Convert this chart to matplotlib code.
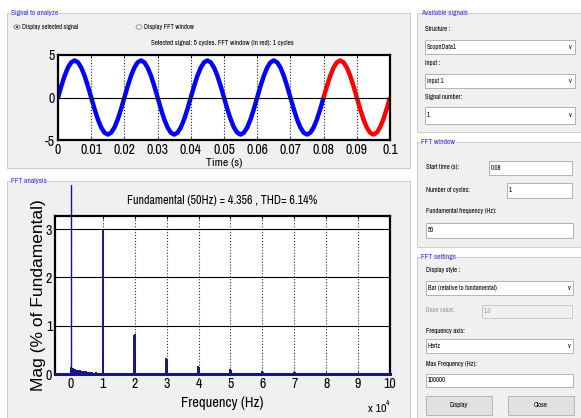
import numpy as np
import matplotlib
matplotlib.use('Agg')
import matplotlib.pyplot as plt
from matplotlib.patches import Rectangle, Circle
from matplotlib.transforms import Bbox

plt.rcParams['axes.unicode_minus'] = False

# ---- data ----
# one cycle of the 50 Hz signal, sampled every 1 ms (amplitude ~4.356)
cycle_vals = [0, 1.35, 2.56, 3.52, 4.14, 4.356, 4.14, 3.52, 2.56, 1.35,
              0, -1.35, -2.56, -3.52, -4.14, -4.356, -4.14, -3.52, -2.56, -1.35]
n_cycles = 5
dt = 0.001
fft_start = 0.08

time_ticks = [0, 0.01, 0.02, 0.03, 0.04, 0.05, 0.06, 0.07, 0.08, 0.09, 0.1]
sig_yticks = [-5, 0, 5]

# spectrum (% of fundamental), frequencies in Hz
fund_freq = 50
fund_mag = 100
harm_freqs = [150, 250, 350, 450, 650, 850, 1050, 1250, 1550, 1850, 2150, 2550,
              2950, 3350, 3750, 4250, 4750, 5250, 5750, 6250, 6750, 7250, 7750,
              8250, 8750, 9250,
              9900, 10000, 10100,
              19800, 19900, 20000, 20100,
              29800, 29900, 30000, 30100,
              39800, 39900, 40000, 40100,
              49800, 49900, 50000, 50100, 50300,
              59800, 59900, 60000, 60200,
              69700, 69900, 70100, 70300,
              79700, 80100, 89900]
harm_mags = [0.14, 0.12, 0.13, 0.11, 0.12, 0.10, 0.09, 0.10, 0.09, 0.08, 0.09, 0.07,
             0.08, 0.06, 0.07, 0.06, 0.07, 0.05, 0.05, 0.04, 0.05, 0.03, 0.04,
             0.03, 0.03, 0.02,
             0.06, 2.98, 0.42,
             0.12, 0.80, 0.82, 0.45,
             0.10, 0.33, 0.32, 0.22,
             0.06, 0.17, 0.15, 0.11,
             0.04, 0.10, 0.11, 0.09, 0.05,
             0.03, 0.07, 0.06, 0.05,
             0.02, 0.05, 0.04, 0.03,
             0.03, 0.03, 0.01]
freq_ticks = [0, 1, 2, 3, 4, 5, 6, 7, 8, 9, 10]
mag_ticks = [0, 1, 2, 3]

title_fft = 'Fundamental (50Hz) = 4.356 , THD= 6.14%'
sel_text = 'Selected signal: 5 cycles. FFT window (in red): 1 cycles'

W, H = 581, 418
NARROW = ['Liberation Sans Narrow', 'Archivo Narrow', 'DejaVu Sans']
PANEL = '#f0f0f0'
NAVY = '#16168c'
TITLE_BLUE = '#3a3ac8'

fig = plt.figure(figsize=(W / 100, H / 100), dpi=100)
fig.patch.set_facecolor('white')


def box(x, y, w, h, fc='white', ec='#a8a8a8', lw=0.6, z=1):
    fig.patches.append(Rectangle((x / W, 1 - (y + h) / H), w / W, h / H,
                                 transform=fig.transFigure, fc=fc, ec=ec,
                                 lw=lw, zorder=z))


def txt(x, y, s, size=4.8, color='black', ha='left', **kw):
    fig.text(x / W, 1 - y / H, s, fontsize=size, color=color, ha=ha,
             va='center', family=NARROW, **kw)


def panel(x, y, w, h, title):
    box(x, y, w, h, fc=PANEL, ec='#cfcfcf', lw=0.8, z=-5)
    fig.text((x + 4) / W, 1 - y / H, title, fontsize=5.4, color=TITLE_BLUE,
             ha='left', va='center', family=NARROW,
             bbox=dict(fc=PANEL, ec='none', pad=0.3))


# ---- panels ----
panel(7, 13, 403, 155, 'Signal to analyze')
panel(7, 181, 403, 240, 'FFT analysis')
panel(417, 13, 170, 119, 'Available signals')
panel(417, 142, 170, 105, 'FFT window')
panel(417, 257, 170, 165, 'FFT settings')

# radio buttons
fig.patches.append(Circle((17 / W, 1 - 27 / H), 3 / W, transform=fig.transFigure,
                          fc='white', ec='#555555', lw=0.5))
fig.patches.append(Circle((17 / W, 1 - 27 / H), 1.3 / W, transform=fig.transFigure,
                          fc='#222222', ec='none'))
fig.patches.append(Circle((139 / W, 1 - 27 / H), 3 / W, transform=fig.transFigure,
                          fc='white', ec='#777777', lw=0.5))
txt(22, 27, 'Display selected signal')
txt(144, 27, 'Display FFT window')
txt(222, 43, sel_text, size=5.1, ha='center')

# ---- signal axes ----
ax1 = fig.add_axes([58 / W, 1 - 140 / H, 332 / W, 85 / H])
n_pts = n_cycles * len(cycle_vals) + 1
t = np.arange(n_pts) * dt
y = np.array(cycle_vals * n_cycles + [cycle_vals[0]])
k = int(round(fft_start / dt))
ax1.plot(t[:k + 1], y[:k + 1], color='blue', lw=3.2, solid_capstyle='butt')
ax1.plot(t[k:], y[k:], color='red', lw=3.2, solid_capstyle='butt')
ax1.set_xlim(0, 0.1)
ax1.set_ylim(-5, 5)
ax1.set_xticks(time_ticks)
ax1.set_xticklabels(['0' if v == 0 else ('%g' % v) for v in time_ticks])
ax1.set_yticks(sig_yticks)
ax1.xaxis.grid(True, color='#222222', ls=':', lw=0.8)
ax1.axhline(0, color='black', lw=0.8)
ax1.set_xlabel('Time (s)', fontsize=8.5, family=NARROW, labelpad=1)

# ---- spectrum axes ----
ax2 = fig.add_axes([55 / W, 1 - 374 / H, 335 / W, 158 / H])
ax2.vlines(harm_freqs, 0, harm_mags, colors=NAVY, lw=1.4)
fl = ax2.vlines([fund_freq], 0, [fund_mag], colors=NAVY, lw=1.0)
fl.set_clip_path(None)
fl.set_clip_box(Bbox.from_extents(55, 0, 390, H - 185))
ax2.set_xlim(-5000, 100000)
ax2.set_ylim(0, 3.27)
ax2.set_xticks([v * 1e4 for v in freq_ticks])
ax2.set_xticklabels([str(v) for v in freq_ticks])
ax2.set_yticks(mag_ticks)
ax2.xaxis.grid(True, color='#333333', ls=':', lw=0.8)
ax2.yaxis.grid(True, color='black', ls='-', lw=0.8)
ax2.set_axisbelow(True)
ax2.set_xlabel('Frequency (Hz)', fontsize=10.5, family=NARROW, labelpad=4)
ax2.set_ylabel('Mag (% of Fundamental)', fontsize=12.5,
               family=['Liberation Sans', 'DejaVu Sans'], labelpad=0)
ax2.set_title(title_fft, fontsize=8.6, family=NARROW, pad=9)
txt(368, 409, 'x 10', size=8.5)
txt(386, 403, '4', size=5.5)

for ax in (ax1, ax2):
    for s in ax.spines.values():
        s.set_linewidth(1.6)
        s.set_color('black')
    ax.tick_params(direction='in', top=True, right=True, length=2.5, width=0.6,
                   labelsize=10, pad=2)
    for lab in ax.get_xticklabels() + ax.get_yticklabels():
        lab.set_family(NARROW)
ax2.spines['bottom'].set_color(NAVY)
ax2.spines['bottom'].set_linewidth(2.2)

# ---- right side controls ----
txt(425, 29, 'Structure :')
box(425, 40, 150, 14)
txt(427, 47, 'ScopeData1')
txt(569, 47, 'v')
txt(425, 63, 'Input :')
box(425, 74, 150, 14)
txt(427, 81, 'input 1')
txt(569, 81, 'v')
txt(425, 97, 'Signal number:')
box(425, 107, 150, 17)
txt(427, 115, '1')
txt(569, 115, 'v')

txt(426, 167, 'Start time (s):')
box(489, 161, 83, 14)
txt(491, 168, '0.08')
txt(426, 190, 'Number of cycles:')
box(507, 183, 65, 15)
txt(509, 190, '1')
txt(426, 211, 'Fundamental frequency (Hz):')
box(426, 223, 147, 15)
txt(428, 230, '50')

txt(426, 270, 'Display style :')
box(426, 281, 147, 14)
txt(428, 288, 'Bar (relative to fundamental)')
txt(568, 288, 'v')
txt(426, 310, 'Base value:', color='#a0a0a0')
box(482, 305, 90, 13, fc=PANEL, ec='#c4c4c4')
txt(484, 311, '1.0', color='#a0a0a0')
txt(426, 331, 'Frequency axis:')
box(426, 339, 147, 14)
txt(428, 346, 'Hertz')
txt(568, 346, 'v')
txt(426, 364, 'Max Frequency (Hz):')
box(426, 374, 147, 13)
txt(428, 380, '100000')

box(426, 396, 66, 19, fc='#e1e1e1', ec='#adadad')
txt(459, 405, 'Display', ha='center')
box(508, 396, 66, 19, fc='#e1e1e1', ec='#adadad')
txt(541, 405, 'Close', ha='center')

fig.savefig('out.png', dpi=100, facecolor=fig.get_facecolor())
